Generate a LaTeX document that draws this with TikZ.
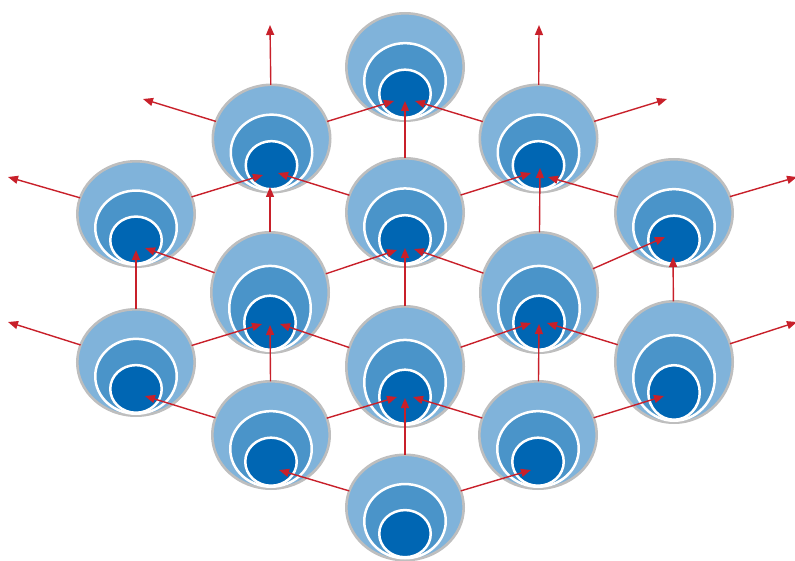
\documentclass[tikz,border=0pt]{standalone}
\usetikzlibrary{arrows.meta,shapes.geometric}
\definecolor{bOuter}{HTML}{80B3DA}
\definecolor{bMid}{HTML}{4A94C9}
\definecolor{bIn}{HTML}{0066B3}
\definecolor{bRim}{HTML}{BEBEBE}
\definecolor{aRed}{HTML}{C8202A}
\tikzset{
  outerb/.style={ellipse, draw=bRim, line width=2.6pt, fill=bOuter, minimum width=117.4pt, inner sep=0pt, outer sep=0pt},
  midb/.style={draw=white, line width=2.5pt, fill=bMid},
  innb/.style={draw=white, line width=2.5pt, fill=bIn},
  arr/.style={draw=aRed, line width=1.4pt, -{Triangle[length=10pt,width=8pt]}}
}
\newcommand\bubblenode[4]{%
  \node[outerb, minimum height={(2*#4-2.6)*1pt}] (#1) at (#2,#3) {};
  \pgfmathsetmacro\bnmr{0.71*#4-1.25}
  \pgfmathsetmacro\bnmy{#3+#4-3.25-\bnmr}
  \pgfmathsetmacro\bnir{0.46*#4-1.25}
  \pgfmathsetmacro\bniy{#3+#4-4.25-\bnir}
  \path[midb] (#2,\bnmy) ellipse [x radius=40.75pt, y radius=\bnmr pt];
  \path[innb] (#2,\bniy) ellipse [x radius=25.75pt, y radius=\bnir pt];
}
\begin{document}
\begin{tikzpicture}[x=1pt,y=-1pt]
\useasboundingbox (0,0) rectangle (795,561);
% bubbles
\bubblenode{n1}{405}{67}{55}
\bubblenode{n2}{271.5}{138.5}{55}
\bubblenode{n3}{538.5}{138.5}{55}
\bubblenode{n4}{136}{214}{54}
\bubblenode{n5}{405}{212.5}{55.5}
\bubblenode{n6}{674}{213}{55}
\bubblenode{n7}{270}{292.5}{61.5}
\bubblenode{n8}{539}{292.5}{61.5}
\bubblenode{n9}{136}{362.5}{54.5}
\bubblenode{n10}{405}{366.5}{61.5}
\bubblenode{n11}{674}{362}{62}
\bubblenode{n12}{271}{435}{55}
\bubblenode{n13}{538}{435}{55}
\bubblenode{n14}{405}{507.5}{54}
% arrow tip coordinates
\coordinate (n1L) at (394,101);
\coordinate (n1C) at (405,101);
\coordinate (n1R) at (415,101);
\coordinate (n2L) at (263,175);
\coordinate (n2C) at (270,187);
\coordinate (n2R) at (278,173);
\coordinate (n3L) at (531,173);
\coordinate (n3C) at (540,168);
\coordinate (n3R) at (548,177);
\coordinate (n4C) at (136,250);
\coordinate (n4R) at (145,248);
\coordinate (n5L) at (397,250);
\coordinate (n5C) at (405,248);
\coordinate (n5R) at (414,249);
\coordinate (n6L) at (665,237);
\coordinate (n6C) at (673,257);
\coordinate (n7L) at (262,324);
\coordinate (n7C) at (270,325);
\coordinate (n7R) at (280,324);
\coordinate (n8L) at (531,323);
\coordinate (n8C) at (539,324);
\coordinate (n8R) at (547,323);
\coordinate (n9R) at (145,396);
\coordinate (n10L) at (397,397);
\coordinate (n10C) at (405,398);
\coordinate (n10R) at (413,397);
\coordinate (n11L) at (664,396);
\coordinate (n12R) at (279,470);
\coordinate (n13L) at (531,470);
% free ends
\coordinate (f1) at (270,25);
\coordinate (f2) at (143,99);
\coordinate (f3) at (539,25);
\coordinate (f4) at (667,99);
\coordinate (f5) at (8,177);
\coordinate (f6) at (797,177);
\coordinate (f7) at (8,322);
\coordinate (f8) at (797,322);
% connectors
\draw[arr] (n2) -- (n1L);
\draw[arr] (n5) -- (n1C);
\draw[arr] (n3) -- (n1R);
\draw[arr] (n4) -- (n2L);
\draw[arr] (n7) -- (n2C);
\draw[arr] (n5) -- (n2R);
\draw[arr] (n5) -- (n3L);
\draw[arr] (n8) -- (n3C);
\draw[arr] (n6) -- (n3R);
\draw[arr] (n9) -- (n4C);
\draw[arr] (n7) -- (n4R);
\draw[arr] (n7) -- (n5L);
\draw[arr] (n10) -- (n5C);
\draw[arr] (n8) -- (n5R);
\draw[arr] (n8) -- (n6L);
\draw[arr] (n11) -- (n6C);
\draw[arr] (n9) -- (n7L);
\draw[arr] (n12) -- (n7C);
\draw[arr] (n10) -- (n7R);
\draw[arr] (n10) -- (n8L);
\draw[arr] (n13) -- (n8C);
\draw[arr] (n11) -- (n8R);
\draw[arr] (n12) -- (n9R);
\draw[arr] (n12) -- (n10L);
\draw[arr] (n14) -- (n10C);
\draw[arr] (n13) -- (n10R);
\draw[arr] (n13) -- (n11L);
\draw[arr] (n14) -- (n12R);
\draw[arr] (n14) -- (n13L);
\draw[arr] (n2) -- (f1);
\draw[arr] (n2) -- (f2);
\draw[arr] (n3) -- (f3);
\draw[arr] (n3) -- (f4);
\draw[arr] (n4) -- (f5);
\draw[arr] (n6) -- (f6);
\draw[arr] (n9) -- (f7);
\draw[arr] (n11) -- (f8);
\end{tikzpicture}
\end{document}
